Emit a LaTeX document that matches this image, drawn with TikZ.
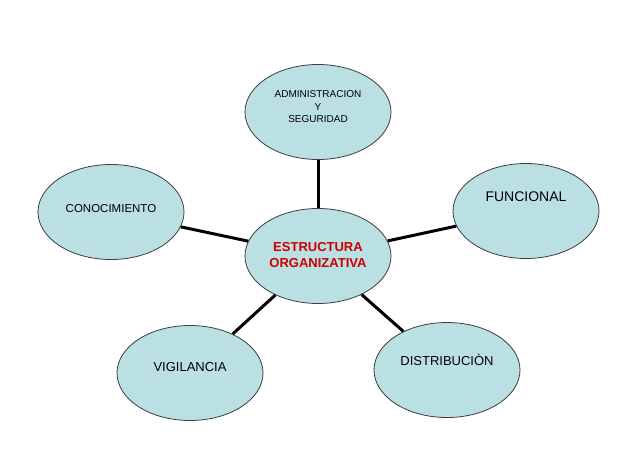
\documentclass[tikz,border=0pt]{standalone}
\usepackage{fontspec}
\setmainfont{Liberation Sans}
\usetikzlibrary{shapes.geometric}
\definecolor{ovalfill}{RGB}{187,224,227}
\definecolor{ovalline}{RGB}{60,60,60}
\definecolor{titlered}{RGB}{204,0,0}
\begin{document}
\begin{tikzpicture}[
        x=1pt, y=-1pt,
        oval/.style={ellipse, draw=ovalline, line width=0.8pt, fill=ovalfill, minimum width=146pt, minimum height=95pt, inner sep=0pt},
        tag/.style={font=\fontsize{#1}{#1}\selectfont, align=center, inner sep=0pt},
        tag/.default=13,
        link/.style={line width=3pt, black}
    ]
        \fill[white] (0,0) rectangle (642,471);
        \useasboundingbox (0,0) rectangle (642,471);

        % Hub
        \node[oval, label={[tag, font=\fontsize{13}{15.5}\selectfont\bfseries, text=titlered, yshift=1pt]center:ESTRUCTURA\\ORGANIZATIVA}] (estr) at (318,256) {};

        % Satellites
        \node[oval, label={[tag, font=\fontsize{10}{12.5}\selectfont, yshift=5pt]center:ADMINISTRACION\\Y\\SEGURIDAD}] (admin) at (318,112) {};
        \node[oval, label={[tag=11.5, yshift=3pt]center:CONOCIMIENTO}] (conoc) at (111,212) {};
        \node[oval, label={[tag=14, yshift=14pt]center:FUNCIONAL}] (func) at (526,211) {};
        \node[oval, label={[tag, yshift=10pt]center:DISTRIBUCIÒN}] (distr) at (447,370) {};
        \node[oval, label={[tag, yshift=6pt]center:VIGILANCIA}] (vigil) at (190,373) {};

        % Links
        \draw[link] (estr) -- (admin);
        \draw[link] (estr) -- (conoc);
        \draw[link] (estr) -- (func);
        \draw[link] (estr) -- (distr);
        \draw[link] (estr) -- (vigil);
    \end{tikzpicture}
\end{document}
